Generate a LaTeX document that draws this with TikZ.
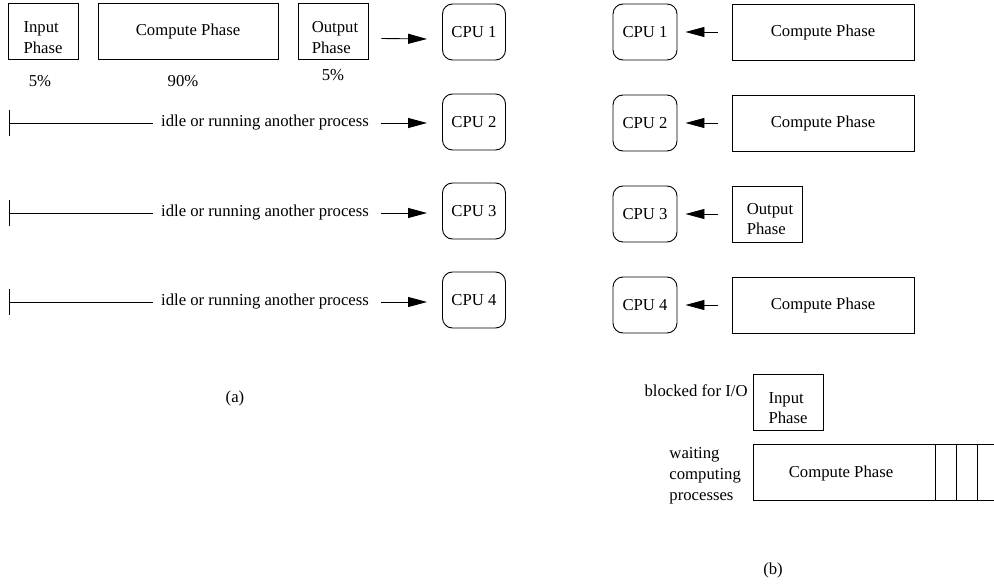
\documentclass[tikz,border=0pt]{standalone}
\usepackage{fontspec}
\setmainfont{Liberation Serif}
\usetikzlibrary{arrows.meta}
\begin{document}
\begin{tikzpicture}[x=1pt,y=-1pt,
  line width=0.9pt,
  every node/.style={font=\fontsize{16.7}{20.5}\selectfont},
  phase/.style={draw, rectangle, align=center, inner sep=0pt, minimum height=56pt},
  cpu/.style={draw, rectangle, rounded corners=10pt, inner sep=0pt, minimum width=63pt, minimum height=56pt},
  lbl/.style={inner sep=0pt},
  twoline/.style={inner sep=0pt, align=left},
  arr/.style={-{Triangle[length=19pt,width=10pt]}},
  tickbar/.style={line width=0.9pt}]
\useasboundingbox (0,0) rectangle (994,586);

% ---------- (a) one process on four CPUs ----------
\node[phase, minimum width=70pt]  (inA)  at (43,31.5)  {};
\node[twoline] (inAt) at ([xshift=0pt,yshift=-6pt]inA.center) {Input\\Phase};
\node[phase, minimum width=180pt] (cmpA) at (188,31.5) {Compute Phase};
\node[phase, minimum width=70pt]  (outA) at (333,31.5) {};
\node[twoline] (outAt) at ([xshift=2pt,yshift=-6pt]outA.center) {Output\\Phase};
\node[lbl] (pin)  at (40,81)  {5\%};
\node[lbl] (pcmp) at (183,81) {90\%};
\node[lbl] (pout) at (333,75) {5\%};

\node[cpu] (cpuA1) at (474,32)  {CPU 1};
\node[cpu] (cpuA2) at (474,122) {CPU 2};
\node[cpu] (cpuA3) at (474,211) {CPU 3};
\node[cpu] (cpuA4) at (474,300) {CPU 4};

\draw[arr] ([xshift=13pt,yshift=-7pt]outA.east) -- ([xshift=-15pt,yshift=-7pt]cpuA1.west);

\foreach \r/\y in {2/123,3/213,4/302}{
  \coordinate (s\r) at (9,\y);
  \node[lbl] (idle\r) at (265,\y) {idle or running another process};
  \draw[tickbar] ([yshift=13pt]s\r) -- ([yshift=-13pt]s\r);
  \draw (s\r) -- ([xshift=-8pt]idle\r.west |- s\r);
  \draw[arr] ([xshift=12pt]idle\r.east |- s\r) -- ([xshift=-15pt]cpuA\r.west |- s\r);
}

\node[lbl] (capA) at (235,398) {(a)};

% ---------- (b) four processes sharing the CPUs ----------
\node[cpu, minimum width=64pt] (cpuB1) at (645,32)  {CPU 1};
\node[cpu, minimum width=64pt] (cpuB2) at (645,123) {CPU 2};
\node[cpu, minimum width=64pt] (cpuB3) at (645,214) {CPU 3};
\node[cpu, minimum width=64pt] (cpuB4) at (645,305) {CPU 4};

\node[phase, minimum width=182pt] (cmpB1) at (823,32)  {Compute Phase};
\node[phase, minimum width=182pt] (cmpB2) at (823,123) {Compute Phase};
\node[phase, minimum width=70pt]  (outB3) at (767,214) {};
\node[twoline] (outB3t) at ([xshift=3pt,yshift=-5pt]outB3.center) {Output\\Phase};
\node[phase, minimum width=182pt] (cmpB4) at (823,305) {Compute Phase};

\draw[arr] ([xshift=-14pt]cmpB1.west) -- ([xshift=8pt]cpuB1.east);
\draw[arr] ([xshift=-14pt]cmpB2.west) -- ([xshift=8pt]cpuB2.east);
\draw[arr] ([xshift=-14pt]outB3.west) -- ([xshift=8pt]cpuB3.east);
\draw[arr] ([xshift=-14pt]cmpB4.west) -- ([xshift=8pt]cpuB4.east);

% blocked process
\node[phase, minimum width=70pt] (inB) at (788,402) {};
\node[twoline] (inBt) at ([xshift=0pt,yshift=-6pt]inB.center) {Input\\Phase};
\node[lbl, anchor=base east] (blocked) at (748,396) {blocked for I/O};

% ready queue of computing processes
\draw (994,444) -- (753,444) -- (753,500) -- (994,500);
\foreach \x in {935,956,977} \draw (\x,444) -- (\x,500);
\node[lbl] (cmpQ) at (841,473) {Compute Phase};
\node[lbl, anchor=west, align=left, font=\fontsize{16.7}{21}\selectfont] (waiting) at (669,476) {waiting\\computing\\processes};

\node[lbl] (capB) at (773,570) {(b)};
\end{tikzpicture}
\end{document}
